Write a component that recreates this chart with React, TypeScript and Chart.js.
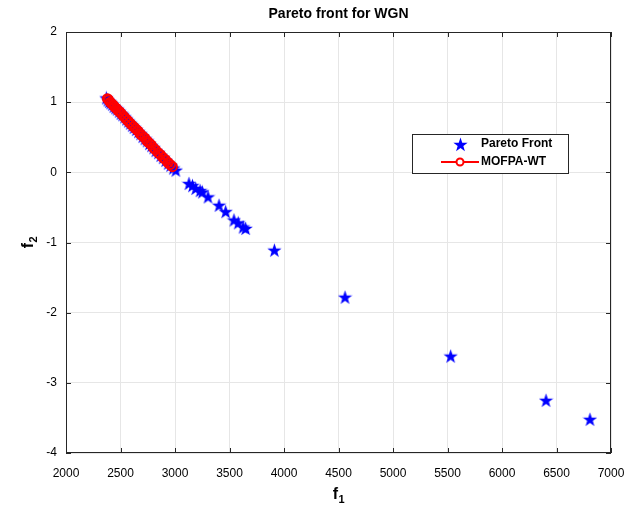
import React, { useEffect, useRef } from "react";
import { Chart, registerables } from "chart.js";

Chart.register(...registerables);

const TITLE = "Pareto front for WGN";
const X_TICKS = [2000, 2500, 3000, 3500, 4000, 4500, 5000, 5500, 6000, 6500, 7000];
const Y_TICKS = [-4, -3, -2, -1, 0, 1, 2];
const LEGEND_LABELS = ["Pareto Front", "MOFPA-WT"];

const paretoF1 = [
  2370, 2385, 2398, 2410, 2425, 2440, 2455, 2470, 2488, 2505, 2520, 2538, 2555, 2572, 2590,
  2608, 2625, 2645, 2665, 2685, 2705, 2725, 2745, 2765, 2785, 2805, 2825, 2848, 2870, 2892,
  2915, 2938, 2960, 2985, 3008, 3128, 3160, 3190, 3230, 3251, 3303, 3404, 3465, 3541, 3580,
  3625, 3648, 3912, 4560, 5529, 6404, 6807,
];
const paretoF2 = [
  1.06, 1.03, 1.01, 0.99, 0.97, 0.94, 0.92, 0.9, 0.87, 0.84, 0.82, 0.79, 0.76, 0.73, 0.7,
  0.67, 0.64, 0.61, 0.58, 0.55, 0.51, 0.48, 0.45, 0.41, 0.38, 0.35, 0.31, 0.28, 0.24, 0.21,
  0.17, 0.13, 0.1, 0.06, 0.03, -0.16, -0.19, -0.23, -0.26, -0.28, -0.35, -0.47, -0.56, -0.68, -0.72,
  -0.78, -0.8, -1.11, -1.78, -2.62, -3.25, -3.52,
];

const mofpaF1 = [
  2380, 2392, 2405, 2418, 2432, 2447, 2462, 2478, 2494, 2511, 2528, 2546, 2564, 2582, 2600,
  2620, 2640, 2660, 2680, 2700, 2722, 2742, 2762, 2782, 2802, 2822, 2845, 2868, 2890, 2912,
  2935, 2956, 2976,
];
const mofpaF2 = [
  1.05, 1.03, 1.0, 0.98, 0.96, 0.93, 0.91, 0.88, 0.86, 0.83, 0.8, 0.77, 0.74, 0.71, 0.68,
  0.65, 0.62, 0.59, 0.55, 0.52, 0.49, 0.45, 0.42, 0.39, 0.35, 0.32, 0.28, 0.25, 0.21, 0.18,
  0.14, 0.11, 0.08,
];

const BLUE = "#0000ff";
const RED = "#ff0000";
const AXIS = "#262626";
const FONT = "'Liberation Sans', Arial, Helvetica, sans-serif";

function makeStar(size: number, color: string): HTMLCanvasElement {
  const c = document.createElement("canvas");
  c.width = size;
  c.height = size;
  const ctx = c.getContext("2d")!;
  const cx = size / 2;
  const cy = size / 2 + 0.6;
  const R = size / 2;
  const r = R * 0.4;
  ctx.beginPath();
  for (let i = 0; i < 10; i++) {
    const ang = -Math.PI / 2 + (i * Math.PI) / 5;
    const rad = i % 2 === 0 ? R : r;
    const px = cx + rad * Math.cos(ang);
    const py = cy + rad * Math.sin(ang);
    if (i === 0) ctx.moveTo(px, py);
    else ctx.lineTo(px, py);
  }
  ctx.closePath();
  ctx.fillStyle = color;
  ctx.fill();
  return c;
}

function drawSubLabel(ctx: CanvasRenderingContext2D, main: string, sub: string, x: number, y: number) {
  ctx.save();
  ctx.fillStyle = "#000";
  ctx.textBaseline = "middle";
  ctx.font = `bold 16px ${FONT}`;
  const w1 = ctx.measureText(main).width;
  ctx.font = `bold 11px ${FONT}`;
  const w2 = ctx.measureText(sub).width;
  const start = x - (w1 + w2) / 2;
  ctx.font = `bold 16px ${FONT}`;
  ctx.textAlign = "left";
  ctx.fillText(main, start, y);
  ctx.font = `bold 11px ${FONT}`;
  ctx.fillText(sub, start + w1 + 0.5, y + 5);
  ctx.restore();
}

export default function App() {
  const ref = useRef<HTMLCanvasElement | null>(null);

  useEffect(() => {
    if (!ref.current) return;
    const star = makeStar(15, BLUE);
    const legendStar = makeStar(15, BLUE);

    const framePlugin = {
      id: "matlabFrame",
      afterDraw(chart: any) {
        const ctx = chart.ctx as CanvasRenderingContext2D;
        const { left, right, top, bottom } = chart.chartArea;
        const xs = chart.scales.x;
        const ys = chart.scales.y;
        ctx.save();
        ctx.strokeStyle = AXIS;
        ctx.lineWidth = 1;
        ctx.strokeRect(left + 0.5, top + 0.5, right - left - 1, bottom - top - 1);
        ctx.beginPath();
        X_TICKS.forEach((v) => {
          const px = Math.round(xs.getPixelForValue(v)) + 0.5;
          ctx.moveTo(px, bottom);
          ctx.lineTo(px, bottom - 5);
          ctx.moveTo(px, top);
          ctx.lineTo(px, top + 5);
        });
        Y_TICKS.forEach((v) => {
          const py = Math.round(ys.getPixelForValue(v)) + 0.5;
          ctx.moveTo(left, py);
          ctx.lineTo(left + 5, py);
          ctx.moveTo(right, py);
          ctx.lineTo(right - 5, py);
        });
        ctx.stroke();

        ctx.fillStyle = "#000";
        ctx.font = `bold 14px ${FONT}`;
        ctx.textAlign = "center";
        ctx.textBaseline = "middle";
        ctx.fillText(TITLE, (left + right) / 2, 14);

        drawSubLabel(ctx, "f", "1", (left + right) / 2, 495);
        ctx.save();
        ctx.translate(29, (top + bottom) / 2);
        ctx.rotate(-Math.PI / 2);
        drawSubLabel(ctx, "f", "2", 0, 0);
        ctx.restore();

        const lx = left + 346;
        const ly = top + 102;
        const lw = 156;
        const lh = 39;
        ctx.fillStyle = "#fff";
        ctx.fillRect(lx, ly, lw, lh);
        ctx.strokeStyle = AXIS;
        ctx.lineWidth = 1;
        ctx.strokeRect(lx + 0.5, ly + 0.5, lw, lh);
        ctx.drawImage(legendStar, lx + 41, ly + 3);
        ctx.strokeStyle = RED;
        ctx.lineWidth = 2;
        ctx.beginPath();
        ctx.moveTo(lx + 29, ly + 28);
        ctx.lineTo(lx + 67, ly + 28);
        ctx.stroke();
        ctx.beginPath();
        ctx.arc(lx + 48, ly + 28, 3.5, 0, Math.PI * 2);
        ctx.fillStyle = "#fff";
        ctx.fill();
        ctx.stroke();
        ctx.fillStyle = "#000";
        ctx.font = `bold 12px ${FONT}`;
        ctx.textAlign = "left";
        ctx.textBaseline = "middle";
        ctx.fillText(LEGEND_LABELS[0], lx + 69, ly + 10);
        ctx.fillText(LEGEND_LABELS[1], lx + 69, ly + 28);
        ctx.restore();
      },
    };

    const chart = new Chart(ref.current, {
      type: "scatter",
      data: {
        datasets: [
          {
            label: LEGEND_LABELS[0],
            data: paretoF1.map((x, i) => ({ x, y: paretoF2[i] })),
            pointStyle: star as any,
            pointRadius: 7,
            showLine: false,
            backgroundColor: BLUE,
            borderColor: BLUE,
            order: 2,
          },
          {
            label: LEGEND_LABELS[1],
            data: mofpaF1.map((x, i) => ({ x, y: mofpaF2[i] })),
            showLine: true,
            borderColor: RED,
            borderWidth: 2,
            pointStyle: "circle",
            pointRadius: 4.5,
            pointBorderWidth: 2,
            pointBorderColor: RED,
            pointBackgroundColor: "rgba(0,0,0,0)",
            backgroundColor: RED,
            order: 1,
          },
        ],
      },
      options: {
        animation: false,
        responsive: false,
        maintainAspectRatio: false,
        layout: { padding: { left: 0, right: 0, top: 32, bottom: 0 } },
        plugins: {
          legend: { display: false },
          title: { display: false },
          tooltip: { enabled: false },
        },
        scales: {
          x: {
            type: "linear",
            min: 2000,
            max: 7000,
            afterFit: (s: any) => {
              s.height = 58;
              s.paddingLeft = 0;
              s.paddingRight = 15;
            },
            afterBuildTicks: (s: any) => {
              s.ticks = X_TICKS.map((v) => ({ value: v }));
            },
            ticks: {
              color: "#000",
              font: { family: FONT, size: 12 },
              padding: 13,
              maxRotation: 0,
              autoSkip: false,
              callback: (v: any) => String(v),
            },
            grid: { color: "#e6e6e6", drawTicks: false, lineWidth: 1 },
            border: { display: false },
          },
          y: {
            type: "linear",
            min: -4,
            max: 2,
            afterFit: (s: any) => {
              s.width = 66;
            },
            afterBuildTicks: (s: any) => {
              s.ticks = Y_TICKS.map((v) => ({ value: v }));
            },
            ticks: {
              color: "#000",
              font: { family: FONT, size: 12 },
              padding: 9,
              autoSkip: false,
              callback: (v: any) => String(v),
            },
            grid: { color: "#e6e6e6", drawTicks: false, lineWidth: 1 },
            border: { display: false },
          },
        },
      },
      plugins: [framePlugin],
    });
    return () => chart.destroy();
  }, []);

  return (
    <div style={{ position: "fixed", left: 0, top: 0, width: 626, height: 511, background: "#fff" }}>
      <canvas ref={ref} width={626} height={511} style={{ display: "block" }} />
    </div>
  );
}
